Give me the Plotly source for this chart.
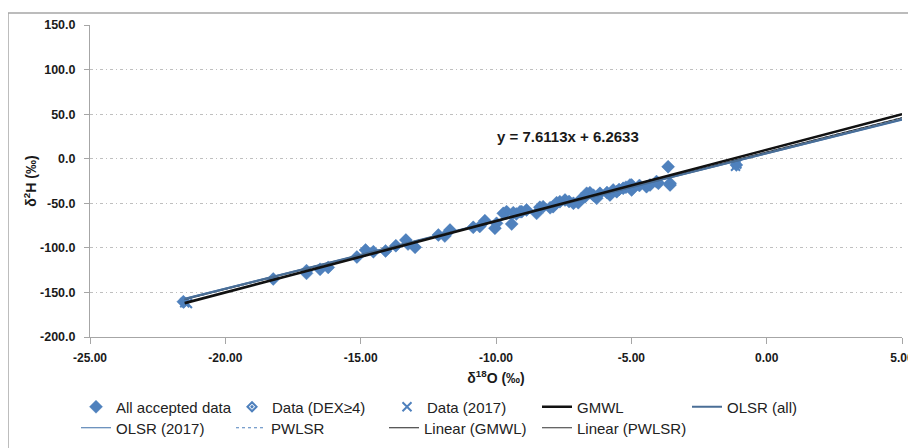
import plotly.graph_objects as go

# ---- data ----
all_x = [-21.55, -18.23, -17.00, -17.00, -16.50, -16.20, -15.14, -14.82, -14.53, -14.08,
         -13.70, -13.33, -13.25, -12.99, -12.13, -11.89, -11.70, -10.84, -10.41, -10.04,
         -9.98, -9.73, -9.61, -9.42, -9.36, -9.11, -9.05, -8.87, -8.50, -8.38,
         -8.26, -7.89, -7.76, -7.64, -7.45, -7.14, -6.96, -6.71, -6.65, -6.53,
         -6.28, -6.16, -5.79, -5.67, -5.54, -5.30, -5.05, -4.99, -4.99, -4.44,
         -4.31, -4.07, -4.00, -3.64, -3.57, -3.57, -1.12,
         -8.00, -7.30, -6.40, -5.90, -5.20, -4.70, -10.60, -9.25, -6.85, -5.45]
all_y = [-160.4, -134.9, -125.6, -128.6, -124.1, -121.9, -110.3, -102.4, -104.3, -103.5,
         -97.6, -91.2, -95.7, -99.4, -85.6, -86.7, -80.0, -77.0, -69.5, -78.0,
         -72.5, -61.3, -59.4, -73.2, -60.5, -59.4, -59.4, -57.5, -61.3, -54.5,
         -53.8, -53.8, -49.3, -48.2, -46.3, -50.0, -49.3, -42.6, -38.8, -38.1,
         -44.4, -38.8, -40.7, -35.1, -37.0, -33.2, -29.5, -29.5, -35.0, -31.4,
         -29.5, -25.7, -27.6, -9.0, -29.5, -27.6, -7.0,
         -55.0, -48.0, -41.0, -38.0, -32.0, -30.0, -76.0, -62.0, -45.0, -34.5]

dex_x = [-21.55, -18.23, -17.00, -16.50, -16.20, -15.14, -14.82, -14.53, -14.08,
         -13.70, -13.33, -12.99, -12.13, -11.70, -10.84, -10.41, -10.04,
         -9.73, -9.61, -9.36, -9.05, -8.87, -8.38, -7.89, -7.76, -7.45, -7.14,
         -6.71, -6.53, -6.16, -5.79, -5.54, -5.30, -4.99, -4.44, -4.31, -4.00, -3.64, -3.57]
dex_y = [-160.4, -134.9, -125.6, -124.1, -121.9, -110.3, -102.4, -104.3, -103.5,
         -97.6, -91.2, -99.4, -85.6, -80.0, -77.0, -69.5, -78.0,
         -61.3, -59.4, -60.5, -59.4, -57.5, -54.5, -53.8, -49.3, -46.3, -50.0,
         -42.6, -38.1, -38.8, -40.7, -37.0, -33.2, -29.5, -31.4, -29.5, -27.6, -9.0, -29.5]

d2017_x = [-21.50, -21.40, -1.10, -1.15]
d2017_y = [-161.5, -162.5, -6.0, -8.5]

line_names = ["GMWL", "OLSR (all)", "OLSR (2017)", "PWLSR", "Linear (GMWL)", "Linear (PWLSR)"]
line_slopes = [8.0, 7.6113, 7.55, 7.70, 8.0, 7.70]
line_intercepts = [10.0, 6.2633, 5.6, 7.5, 10.0, 7.5]
line_xrange = [-21.5, 5.0]

x_ticks = [-25, -20, -15, -10, -5, 0, 5]
y_ticks = [-200, -150, -100, -50, 0, 50, 100, 150]

equation_text = "y = 7.6113x + 6.2633"

# ---- styles ----
BLUE = "#4F81BD"
FONT = "Liberation Sans, Arial, sans-serif"
TXT = "#1a1a1a"
line_styles = {
    "GMWL": dict(color="#111111", width=2.6),
    "OLSR (all)": dict(color="#4A6E96", width=2.2),
    "OLSR (2017)": dict(color="#3E6FA8", width=1.2),
    "PWLSR": dict(color=BLUE, width=1.2, dash="dot"),
    "Linear (GMWL)": dict(color="#222222", width=1),
    "Linear (PWLSR)": dict(color="#333333", width=1),
}
# legend slot for each series: (legend text start, row centre) in layout pixels
legend_slots = {
    "All accepted data": (109, 399), "Data (DEX≥4)": (265, 399), "Data (2017)": (420, 399),
    "GMWL": (570, 399), "OLSR (all)": (720, 399),
    "OLSR (2017)": (109, 420), "PWLSR": (264, 420), "Linear (GMWL)": (417, 420),
    "Linear (PWLSR)": (570, 420),
}
W, H = 916, 448
legend_order = list(legend_slots.keys())

def legend_id(name):
    i = legend_order.index(name)
    return "legend" if i == 0 else f"legend{i + 1}"

fig = go.Figure()

fig.add_trace(go.Scatter(x=all_x, y=all_y, mode="markers", name="All accepted data",
                         marker=dict(symbol="diamond", size=10, color=BLUE,
                                     line=dict(color=BLUE, width=0.5)),
                         legend=legend_id("All accepted data")))
fig.add_trace(go.Scatter(x=dex_x, y=dex_y, mode="markers", name="Data (DEX≥4)",
                         marker=dict(symbol="diamond-open-dot", size=7, color=BLUE,
                                     line=dict(color=BLUE, width=2)),
                         legend=legend_id("Data (DEX≥4)")))
fig.add_trace(go.Scatter(x=d2017_x, y=d2017_y, mode="markers", name="Data (2017)",
                         marker=dict(symbol="x-thin", size=9, color=BLUE,
                                     line=dict(color=BLUE, width=2)),
                         legend=legend_id("Data (2017)")))

line_traces = []
for name, m, b in zip(line_names, line_slopes, line_intercepts):
    xs = line_xrange
    ys = [m * v + b for v in xs]
    line_traces.append(go.Scatter(x=xs, y=ys, mode="lines", name=name,
                                  line=line_styles[name], legend=legend_id(name)))
# thin lines first, the two main lines on top
for t in line_traces[2:] + [line_traces[1], line_traces[0]]:
    fig.add_trace(t)

fig.add_annotation(x=-7.35, y=24.4, text=equation_text, showarrow=False,
                   font=dict(family=FONT, size=15, color=TXT, weight="bold"))

# outer chart border
fig.add_shape(type="rect", xref="paper", yref="paper",
              x0=-0.101, x1=1.2, y0=-0.6, y1=1.0385,
              line=dict(color="#A6A6A6", width=1.5), fillcolor="rgba(0,0,0,0)", layer="below")

legend_layouts = {}
for i, name in enumerate(legend_order):
    tx, ty = legend_slots[name]
    key = "legend" if i == 0 else f"legend{i + 1}"
    legend_layouts[key] = dict(
        orientation="h", x=(tx - 41) / W, xref="container", y=1 - ty / H, yref="container",
        xanchor="left", yanchor="middle", font=dict(size=15, family=FONT, color="#222222"),
        bgcolor="rgba(0,0,0,0)")

fig.update_layout(
    width=W, height=H,
    margin=dict(l=82, r=22, t=17, b=119, autoexpand=False),
    paper_bgcolor="white", plot_bgcolor="white",
    font=dict(family=FONT, size=12, color="#222222"),
    showlegend=True,
    xaxis=dict(range=[-25, 5], tickvals=x_ticks, ticktext=[f"{v:.2f}" for v in x_ticks],
               automargin=False,
               showgrid=False, zeroline=False, showline=True, linecolor="#A6A6A6",
               linewidth=1, ticks="outside", ticklen=6, tickcolor="#A6A6A6",
               ticklabelstandoff=4,
               tickfont=dict(family=FONT, size=12, color=TXT, weight="bold"),
               title=dict(text="δ<sup>18</sup>O (‰)", standoff=8,
                          font=dict(family=FONT, size=14, color=TXT, weight="bold"))),
    yaxis=dict(range=[-200, 150], tickvals=y_ticks, ticktext=[f"{v:.1f}" for v in y_ticks],
               automargin=False,
               showgrid=True, gridcolor="#BFBFBF", griddash="3px,3px,1px,3px", gridwidth=1,
               zeroline=False, showline=True, linecolor="#A6A6A6", linewidth=1,
               ticks="outside", ticklen=5, tickcolor="#A6A6A6",
               ticklabelstandoff=6,
               tickfont=dict(family=FONT, size=12.5, color=TXT, weight="bold"),
               title=dict(text="δ<sup>2</sup>H (‰)", standoff=0,
                          font=dict(family=FONT, size=14, color=TXT, weight="bold"))),
    **legend_layouts,
)

fig.write_html("out.html")
